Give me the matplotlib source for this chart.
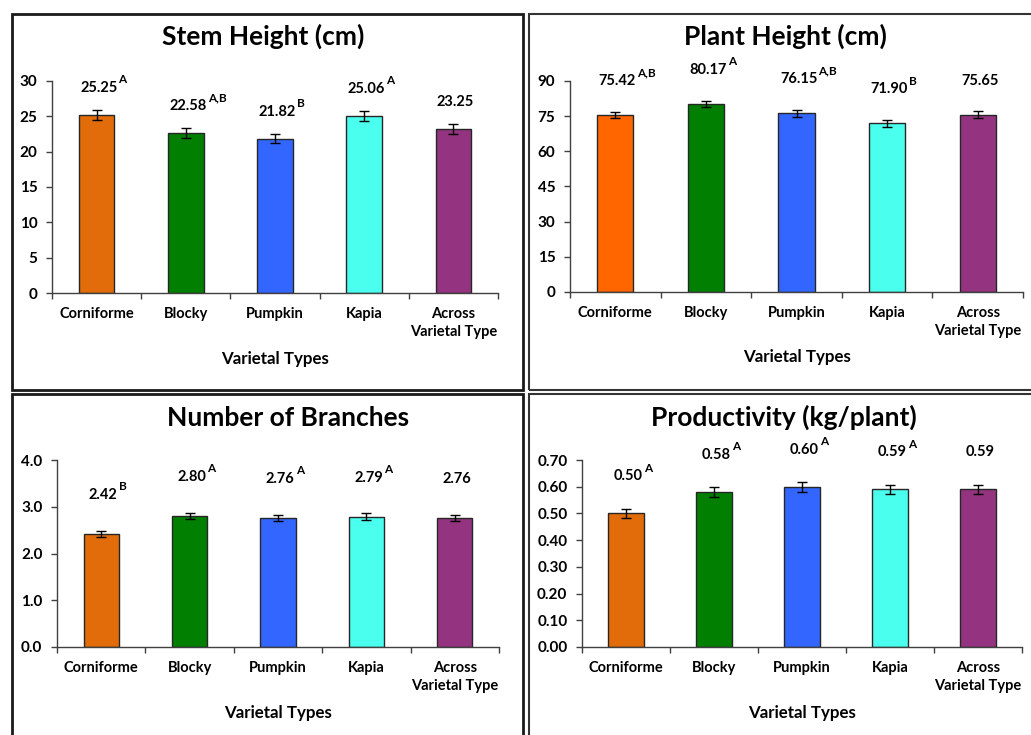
import matplotlib
matplotlib.use("Agg")
import matplotlib.pyplot as plt
from matplotlib.patches import Rectangle
import numpy as np

plt.rcParams['font.family'] = ['Lato', 'DejaVu Sans']
plt.rcParams['font.weight'] = 'bold'

# ---------------- data ----------------
categories = ["Corniforme", "Blocky", "Pumpkin", "Kapia", "Across\nVarietal Type"]

stem_values = [25.25, 22.58, 21.82, 25.06, 23.25]
stem_errors = [0.7, 0.7, 0.65, 0.7, 0.7]
stem_letters = ["A", "A,B", "B", "A", ""]

plant_values = [75.42, 80.17, 76.15, 71.90, 75.65]
plant_errors = [1.4, 1.4, 1.4, 1.4, 1.4]
plant_letters = ["A,B", "A", "A,B", "B", ""]

branch_values = [2.42, 2.80, 2.76, 2.79, 2.76]
branch_errors = [0.065, 0.07, 0.07, 0.07, 0.07]
branch_letters = ["B", "A", "A", "A", ""]

prod_values = [0.50, 0.58, 0.60, 0.59, 0.59]
prod_errors = [0.018, 0.018, 0.018, 0.018, 0.018]
prod_letters = ["A", "A", "A", "A", ""]

colors_main = ["#E36C0A", "#007F00", "#3366FF", "#4BFFEF", "#943480"]
colors_plant = ["#FF6600", "#007F00", "#3366FF", "#4BFFEF", "#943480"]

W, H = 1031, 735
fig = plt.figure(figsize=(W / 100, H / 100), dpi=100)


def px_axes(x0, y0, x1, y1):
    return fig.add_axes([x0 / W, 1 - y1 / H, (x1 - x0) / W, (y1 - y0) / H])


def frame(x0, y0, x1, y1, lw=1.5, color="#333333"):
    fig.patches.append(Rectangle((x0 / W, 1 - y1 / H), (x1 - x0) / W, (y1 - y0) / H,
                                 transform=fig.transFigure, fill=False,
                                 edgecolor=color, linewidth=lw, zorder=0))


# panel frames
frame(12, 14, 523, 390, lw=2.0, color="#1a1a1a")
frame(529, 14, 1040, 390)
frame(12, 394, 523, 760, lw=2.0, color="#1a1a1a")
frame(529, 394, 1040, 760)


def panel(box, values, errors, letters, colors, ymax, ystep, fmt, title, title_xy,
          xlabel_xy, label_gap_px):
    ax = px_axes(*box)
    x = np.arange(len(values))
    ax.bar(x, values, width=0.4, color=colors, edgecolor="#262626", linewidth=1.0,
           zorder=2)
    ax.errorbar(x, values, yerr=errors, fmt='none', ecolor='black', elinewidth=1.0,
                capsize=3.5, capthick=1.0, zorder=3)
    ax.set_xlim(-0.5, len(values) - 0.5)
    ax.set_ylim(0, ymax)
    ticks = np.arange(0, ymax + ystep / 2, ystep)
    ax.set_yticks(ticks)
    ax.set_yticklabels([fmt.format(t) for t in ticks], fontsize=11, fontweight='bold')
    ax.set_xticks(x)
    ax.set_xticklabels(categories, fontsize=10.5, fontweight='bold', linespacing=1.35)
    ax.set_xticks(np.arange(-0.5, len(values)), minor=True)
    ax.tick_params(axis='x', which='major', length=0, pad=10)
    ax.tick_params(axis='x', which='minor', length=4, width=1.0, direction='out',
                   color="#404040")
    ax.tick_params(axis='y', length=4.5, width=1.0, direction='out', color="#404040",
                   pad=6)
    for s in ['top', 'right']:
        ax.spines[s].set_visible(False)
    for s in ['left', 'bottom']:
        ax.spines[s].set_color("#404040")
        ax.spines[s].set_linewidth(1.0)
    ax.patch.set_alpha(0)

    for xi, v, lt in zip(x, values, letters):
        t = ax.annotate(f"{v:.2f}", xy=(xi, v), xytext=(1.5, label_gap_px * 0.72),
                        textcoords='offset points', ha='center', va='center',
                        fontsize=10.5, fontweight='bold', annotation_clip=False)
        if lt:
            ax.annotate(lt, xy=(1, 0.7), xycoords=t, xytext=(0.8, 0),
                        textcoords='offset points', ha='left', va='bottom',
                        fontsize=8.5, fontweight='bold', annotation_clip=False)

    fig.text(title_xy[0] / W, 1 - title_xy[1] / H, title, ha='center', va='center',
             fontsize=19, fontweight='bold')
    fig.text(xlabel_xy[0] / W, 1 - xlabel_xy[1] / H, "Varietal Types", ha='center',
             va='center', fontsize=12.2, fontweight='bold')
    return ax


panel((52, 81, 498, 293), stem_values, stem_errors, stem_letters, colors_main,
      30, 5, "{:.0f}", "Stem Height (cm)", (263, 36), (275, 359), 27)
panel((570, 81, 1023, 292), plant_values, plant_errors, plant_letters, colors_plant,
      90, 15, "{:.0f}", "Plant Height (cm)", (785, 36), (797, 357), 34)
panel((57, 460, 499, 647), branch_values, branch_errors, branch_letters, colors_main,
      4.0, 1.0, "{:.1f}", "Number of Branches", (288, 418), (278, 713), 39)
panel((582, 460, 1022, 647), prod_values, prod_errors, prod_letters, colors_main,
      0.70, 0.10, "{:.2f}", "Productivity (kg/plant)", (784, 417), (802, 713), 37)

fig.savefig("out.png", dpi=100)
